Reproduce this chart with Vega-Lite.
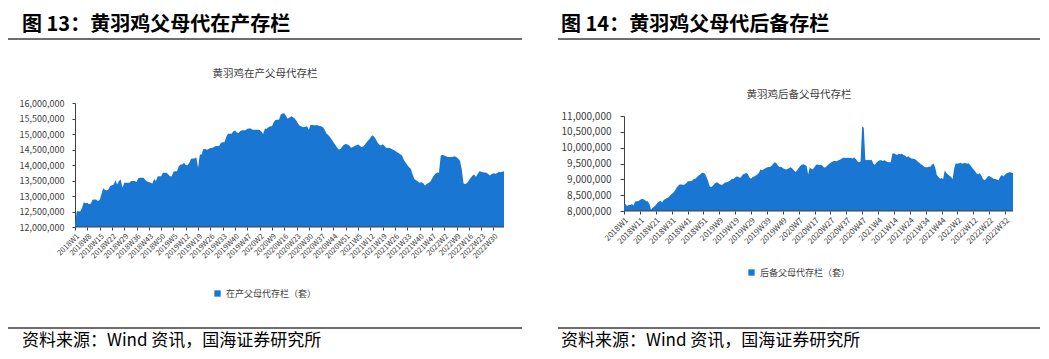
{
"$schema": "https://vega.github.io/schema/vega-lite/v6.json",
"background": "white",
"padding": {"left": 8, "top": 15, "right": 0, "bottom": 0},
"spacing": 36,
"resolve": {"scale": {"color": "independent"}, "legend": {"color": "independent"}},
"config": {
  "view": {"stroke": null},
  "font": "Noto Sans CJK SC",
  "axis": {"grid": false, "domainColor": "#404040", "tickColor": "#404040", "labelColor": "#404040", "labelFont": "Noto Sans CJK SC", "title": null, "labelOverlap": false},
  "legend": {"layout": {"bottom": {"anchor": "middle"}}}
},
"datasets": {"d": [
{"w":"2018W1","a":12050000,"b":8190000},{"w":"2018W2","a":12510000,"b":8220000},{"w":"2018W3","a":12510000,"b":8150000},{"w":"2018W4","a":12500000,"b":8200000},{"w":"2018W5","a":12620000,"b":8190000},{"w":"2018W6","a":12800000,"b":8220000},{"w":"2018W7","a":12770000,"b":8170000},{"w":"2018W8","a":12780000,"b":8300000},{"w":"2018W9","a":12730000,"b":8310000},{"w":"2018W10","a":12760000,"b":8310000},
{"w":"2018W11","a":12880000,"b":8350000},{"w":"2018W12","a":12890000,"b":8380000},{"w":"2018W13","a":12890000,"b":8380000},{"w":"2018W14","a":12840000,"b":8350000},{"w":"2018W15","a":12870000,"b":8310000},{"w":"2018W16","a":13050000,"b":8310000},{"w":"2018W17","a":13250000,"b":8220000},{"w":"2018W18","a":13200000,"b":8040000},{"w":"2018W19","a":13180000,"b":8100000},{"w":"2018W20","a":13210000,"b":8140000},
{"w":"2018W21","a":13320000,"b":8190000},{"w":"2018W22","a":13350000,"b":8250000},{"w":"2018W23","a":13370000,"b":8300000},{"w":"2018W24","a":13510000,"b":8320000},{"w":"2018W25","a":13370000,"b":8270000},{"w":"2018W26","a":13480000,"b":8350000},{"w":"2018W27","a":13530000,"b":8380000},{"w":"2018W28","a":13270000,"b":8410000},{"w":"2018W29","a":13430000,"b":8430000},{"w":"2018W30","a":13430000,"b":8490000},
{"w":"2018W31","a":13430000,"b":8540000},{"w":"2018W32","a":13430000,"b":8580000},{"w":"2018W33","a":13480000,"b":8640000},{"w":"2018W34","a":13480000,"b":8730000},{"w":"2018W35","a":13480000,"b":8790000},{"w":"2018W36","a":13450000,"b":8840000},{"w":"2018W37","a":13570000,"b":8840000},{"w":"2018W38","a":13590000,"b":8830000},{"w":"2018W39","a":13590000,"b":8830000},{"w":"2018W40","a":13590000,"b":8870000},
{"w":"2018W41","a":13520000,"b":8920000},{"w":"2018W42","a":13470000,"b":8950000},{"w":"2018W43","a":13450000,"b":8940000},{"w":"2018W44","a":13430000,"b":8960000},{"w":"2018W45","a":13400000,"b":9010000},{"w":"2018W46","a":13550000,"b":9020000},{"w":"2018W47","a":13480000,"b":9070000},{"w":"2018W48","a":13630000,"b":9120000},{"w":"2018W49","a":13640000,"b":9150000},{"w":"2018W50","a":13640000,"b":9210000},
{"w":"2018W51","a":13750000,"b":9200000},{"w":"2018W52","a":13750000,"b":9180000},
{"w":"2019W1","a":13750000,"b":9070000},{"w":"2019W2","a":13700000,"b":8940000},{"w":"2019W3","a":13640000,"b":8770000},{"w":"2019W4","a":13640000,"b":8760000},{"w":"2019W5","a":13780000,"b":8800000},{"w":"2019W6","a":13800000,"b":8860000},{"w":"2019W7","a":13800000,"b":8900000},{"w":"2019W8","a":13950000,"b":8900000},{"w":"2019W9","a":14020000,"b":8850000},{"w":"2019W10","a":14020000,"b":8830000},
{"w":"2019W11","a":14070000,"b":8830000},{"w":"2019W12","a":14000000,"b":8880000},{"w":"2019W13","a":13990000,"b":8910000},{"w":"2019W14","a":14070000,"b":8910000},{"w":"2019W15","a":14200000,"b":8940000},{"w":"2019W16","a":14210000,"b":8960000},{"w":"2019W17","a":14210000,"b":9020000},{"w":"2019W18","a":14250000,"b":9010000},{"w":"2019W19","a":13910000,"b":9060000},{"w":"2019W20","a":14340000,"b":9090000},
{"w":"2019W21","a":14340000,"b":9080000},{"w":"2019W22","a":14520000,"b":9040000},{"w":"2019W23","a":14520000,"b":9090000},{"w":"2019W24","a":14490000,"b":9160000},{"w":"2019W25","a":14520000,"b":9180000},{"w":"2019W26","a":14550000,"b":9200000},{"w":"2019W27","a":14550000,"b":9170000},{"w":"2019W28","a":14580000,"b":9060000},{"w":"2019W29","a":14610000,"b":9020000},{"w":"2019W30","a":14610000,"b":9070000},
{"w":"2019W31","a":14610000,"b":9090000},{"w":"2019W32","a":14720000,"b":9120000},{"w":"2019W33","a":14730000,"b":9150000},{"w":"2019W34","a":14730000,"b":9210000},{"w":"2019W35","a":14900000,"b":9320000},{"w":"2019W36","a":15010000,"b":9290000},{"w":"2019W37","a":15010000,"b":9320000},{"w":"2019W38","a":15010000,"b":9350000},{"w":"2019W39","a":15080000,"b":9370000},{"w":"2019W40","a":15110000,"b":9390000},
{"w":"2019W41","a":15050000,"b":9390000},{"w":"2019W42","a":15030000,"b":9430000},{"w":"2019W43","a":15100000,"b":9490000},{"w":"2019W44","a":15120000,"b":9540000},{"w":"2019W45","a":15120000,"b":9510000},{"w":"2019W46","a":15120000,"b":9430000},{"w":"2019W47","a":15170000,"b":9390000},{"w":"2019W48","a":15180000,"b":9400000},{"w":"2019W49","a":15180000,"b":9360000},{"w":"2019W50","a":15140000,"b":9330000},
{"w":"2019W51","a":15140000,"b":9310000},{"w":"2019W52","a":15140000,"b":9330000},
{"w":"2020W1","a":15140000,"b":9360000},{"w":"2020W2","a":15130000,"b":9380000},{"w":"2020W3","a":15080000,"b":9340000},{"w":"2020W4","a":15000000,"b":9290000},{"w":"2020W5","a":15170000,"b":9230000},{"w":"2020W6","a":15170000,"b":9290000},{"w":"2020W7","a":15220000,"b":9360000},{"w":"2020W8","a":15250000,"b":9420000},{"w":"2020W9","a":15250000,"b":9460000},{"w":"2020W10","a":15380000,"b":9480000},
{"w":"2020W11","a":15450000,"b":9450000},{"w":"2020W12","a":15460000,"b":9420000},{"w":"2020W13","a":15460000,"b":9150000},{"w":"2020W14","a":15620000,"b":9380000},{"w":"2020W15","a":15660000,"b":9330000},{"w":"2020W16","a":15670000,"b":9320000},{"w":"2020W17","a":15580000,"b":9390000},{"w":"2020W18","a":15490000,"b":9460000},{"w":"2020W19","a":15530000,"b":9470000},{"w":"2020W20","a":15570000,"b":9450000},
{"w":"2020W21","a":15540000,"b":9460000},{"w":"2020W22","a":15500000,"b":9430000},{"w":"2020W23","a":15420000,"b":9370000},{"w":"2020W24","a":15320000,"b":9380000},{"w":"2020W25","a":15260000,"b":9440000},{"w":"2020W26","a":15240000,"b":9480000},{"w":"2020W27","a":15220000,"b":9520000},{"w":"2020W28","a":15230000,"b":9550000},{"w":"2020W29","a":15250000,"b":9580000},{"w":"2020W30","a":15140000,"b":9580000},
{"w":"2020W31","a":15300000,"b":9570000},{"w":"2020W32","a":15290000,"b":9600000},{"w":"2020W33","a":15280000,"b":9620000},{"w":"2020W34","a":15280000,"b":9650000},{"w":"2020W35","a":15280000,"b":9680000},{"w":"2020W36","a":15260000,"b":9680000},{"w":"2020W37","a":15250000,"b":9670000},{"w":"2020W38","a":15220000,"b":9680000},{"w":"2020W39","a":15140000,"b":9670000},{"w":"2020W40","a":15020000,"b":9680000},
{"w":"2020W41","a":14970000,"b":9660000},{"w":"2020W42","a":14900000,"b":9690000},{"w":"2020W43","a":14820000,"b":9640000},{"w":"2020W44","a":14730000,"b":9570000},{"w":"2020W45","a":14650000,"b":9540000},{"w":"2020W46","a":14570000,"b":9560000},{"w":"2020W47","a":14500000,"b":10670000},{"w":"2020W48","a":14520000,"b":10630000},{"w":"2020W49","a":14600000,"b":9620000},{"w":"2020W50","a":14650000,"b":9600000},
{"w":"2020W51","a":14680000,"b":9620000},{"w":"2020W52","a":14660000,"b":9600000},{"w":"2020W53","a":14630000,"b":9620000},
{"w":"2021W1","a":14560000,"b":9490000},{"w":"2021W2","a":14580000,"b":9460000},{"w":"2021W3","a":14610000,"b":9530000},{"w":"2021W4","a":14640000,"b":9570000},{"w":"2021W5","a":14660000,"b":9600000},{"w":"2021W6","a":14620000,"b":9600000},{"w":"2021W7","a":14570000,"b":9580000},{"w":"2021W8","a":14600000,"b":9600000},{"w":"2021W9","a":14670000,"b":9580000},{"w":"2021W10","a":14740000,"b":9550000},
{"w":"2021W11","a":14810000,"b":9540000},{"w":"2021W12","a":14880000,"b":9540000},{"w":"2021W13","a":14960000,"b":9810000},{"w":"2021W14","a":14920000,"b":9820000},{"w":"2021W15","a":14840000,"b":9790000},{"w":"2021W16","a":14730000,"b":9770000},{"w":"2021W17","a":14660000,"b":9810000},{"w":"2021W18","a":14630000,"b":9790000},{"w":"2021W19","a":14670000,"b":9810000},{"w":"2021W20","a":14620000,"b":9770000},
{"w":"2021W21","a":14550000,"b":9750000},{"w":"2021W22","a":14550000,"b":9700000},{"w":"2021W23","a":14550000,"b":9730000},{"w":"2021W24","a":14520000,"b":9690000},{"w":"2021W25","a":14490000,"b":9660000},{"w":"2021W26","a":14460000,"b":9650000},{"w":"2021W27","a":14420000,"b":9640000},{"w":"2021W28","a":14390000,"b":9610000},{"w":"2021W29","a":14350000,"b":9560000},{"w":"2021W30","a":14310000,"b":9520000},
{"w":"2021W31","a":14170000,"b":9480000},{"w":"2021W32","a":14080000,"b":9450000},{"w":"2021W33","a":14000000,"b":9400000},{"w":"2021W34","a":13930000,"b":9380000},{"w":"2021W35","a":13880000,"b":9380000},{"w":"2021W36","a":13700000,"b":9400000},{"w":"2021W37","a":13550000,"b":9400000},{"w":"2021W38","a":13510000,"b":9470000},{"w":"2021W39","a":13470000,"b":9490000},{"w":"2021W40","a":13430000,"b":9370000},
{"w":"2021W41","a":13440000,"b":9140000},{"w":"2021W42","a":13420000,"b":9080000},{"w":"2021W43","a":13340000,"b":9020000},{"w":"2021W44","a":13390000,"b":9040000},{"w":"2021W45","a":13420000,"b":9010000},{"w":"2021W46","a":13460000,"b":9280000},{"w":"2021W47","a":13550000,"b":9210000},{"w":"2021W48","a":13650000,"b":9150000},{"w":"2021W49","a":13720000,"b":9110000},{"w":"2021W50","a":13760000,"b":9070000},
{"w":"2021W51","a":13750000,"b":9010000},{"w":"2021W52","a":14300000,"b":9360000},
{"w":"2022W1","a":14330000,"b":9510000},{"w":"2022W2","a":14310000,"b":9490000},{"w":"2022W3","a":14280000,"b":9510000},{"w":"2022W4","a":14260000,"b":9520000},{"w":"2022W5","a":14260000,"b":9490000},{"w":"2022W6","a":14260000,"b":9510000},{"w":"2022W7","a":14270000,"b":9520000},{"w":"2022W8","a":14280000,"b":9490000},{"w":"2022W9","a":14250000,"b":9510000},{"w":"2022W10","a":14200000,"b":9450000},
{"w":"2022W11","a":14130000,"b":9390000},{"w":"2022W12","a":13850000,"b":9320000},{"w":"2022W13","a":13400000,"b":9260000},{"w":"2022W14","a":13390000,"b":9190000},{"w":"2022W15","a":13420000,"b":9160000},{"w":"2022W16","a":13500000,"b":9190000},{"w":"2022W17","a":13580000,"b":9130000},{"w":"2022W18","a":13650000,"b":9020000},{"w":"2022W19","a":13690000,"b":8970000},{"w":"2022W20","a":13620000,"b":9010000},
{"w":"2022W21","a":13710000,"b":9080000},{"w":"2022W22","a":13800000,"b":9110000},{"w":"2022W23","a":13780000,"b":9070000},{"w":"2022W24","a":13770000,"b":9050000},{"w":"2022W25","a":13760000,"b":9010000},{"w":"2022W26","a":13750000,"b":9010000},{"w":"2022W27","a":13710000,"b":8990000},{"w":"2022W28","a":13660000,"b":8980000},{"w":"2022W29","a":13710000,"b":9090000},{"w":"2022W30","a":13730000,"b":9140000},
{"w":"2022W31","a":13720000,"b":9090000},{"w":"2022W32","a":13730000,"b":9150000},{"w":"2022W33","a":13780000,"b":9190000},{"w":"2022W34","a":13770000,"b":9210000},{"w":"2022W35","a":13780000,"b":9230000},{"w":"2022W36","a":13800000,"b":9210000},{"w":"2022W37","b":9200000}
]},
"hconcat": [
 {
  "title": {"text": "图 13：黄羽鸡父母代在产存栏", "anchor": "start", "fontSize": 20, "fontWeight": "bold", "color": "#000000", "dx": 14, "offset": 3},
  "spacing": 28,
  "resolve": {"scale": {"color": "independent"}, "legend": {"color": "independent"}},
  "vconcat": [
   {"width": 514, "height": 2, "data": {"values": []}, "mark": "rule", "encoding": {}, "view": {"fill": "#6e6e6e", "stroke": null}},
   {
    "width": 514, "height": 124,
    "title": {"text": "黄羽鸡在产父母代存栏", "fontSize": 10.5, "fontWeight": "normal", "color": "#404040", "offset": 20},
    "data": {"name": "d"},
    "transform": [{"filter": "isValid(datum.a)"}],
    "encoding": {
      "x": {"field": "w", "type": "ordinal", "sort": null, "scale": {"type": "point", "padding": 0, "range": [67, 496]},
            "axis": {"values": ["2018W1","2018W8","2018W15","2018W22","2018W29","2018W36","2018W43","2018W50","2019W5","2019W12","2019W19","2019W26","2019W33","2019W40","2019W47","2020W2","2020W9","2020W16","2020W23","2020W30","2020W37","2020W44","2020W51","2021W5","2021W12","2021W19","2021W26","2021W33","2021W40","2021W47","2022W2","2022W9","2022W16","2022W23","2022W30"],
                     "domain": false, "labelAngle": -45, "labelFontSize": 7.5, "tickSize": 3, "labelPadding": 2, "labelOverlap": false}}
    },
    "layer": [
     {"mark": {"type": "area", "clip": true},
      "encoding": {
      "y": {"field": "a", "type": "quantitative", "scale": {"domain": [12000000, 16000000], "zero": false, "nice": false, "clamp": true},
            "axis": {"values": [12000000,12500000,13000000,13500000,14000000,14500000,15000000,15500000,16000000], "format": ",.0f", "labelFontSize": 9, "tickSize": 3, "labelPadding": 8, "offset": -67, "labelOverlap": false}},
      "y2": {"datum": 12000000},
      "color": {"datum": "在产父母代存栏（套）", "scale": {"range": ["#1976d2"]},
                "legend": {"orient": "bottom", "title": null, "symbolType": "square", "symbolSize": 40, "labelFontSize": 9, "labelColor": "#404040", "offset": 29}}
      }},
     {"transform": [{"filter": "datum.w == '2018W1'"}],
      "mark": {"type": "rule", "color": "#404040", "strokeWidth": 1},
      "encoding": {"x": {"datum": "2018W1", "type": "ordinal"}, "x2": {"datum": "2022W36"},
        "y": {"datum": 12000000, "type": "quantitative",
              "axis": {"values": [12000000,12500000,13000000,13500000,14000000,14500000,15000000,15500000,16000000], "format": ",.0f", "labelFontSize": 9, "tickSize": 3, "labelPadding": 8, "offset": -67, "labelOverlap": false}}}}
    ]
   },
   {"width": 514, "height": 2, "data": {"values": []}, "mark": "rule", "encoding": {}, "view": {"fill": "#6e6e6e", "stroke": null},
    "title": {"text": "资料来源：Wind 资讯，国海证券研究所", "orient": "bottom", "anchor": "start", "fontSize": 17, "fontWeight": "normal", "color": "#000000", "dx": 14, "offset": 4}}
  ]
 },
 {
  "title": {"text": "图 14：黄羽鸡父母代后备存栏", "anchor": "start", "fontSize": 20, "fontWeight": "bold", "color": "#000000", "dx": 3, "offset": 3},
  "spacing": 49,
  "resolve": {"scale": {"color": "independent"}, "legend": {"color": "independent"}},
  "vconcat": [
   {"width": 482, "height": 2, "data": {"values": []}, "mark": "rule", "encoding": {}, "view": {"fill": "#6e6e6e", "stroke": null}},
   {
    "width": 482, "height": 95,
    "title": {"text": "黄羽鸡后备父母代存栏", "fontSize": 10.5, "fontWeight": "normal", "color": "#404040", "offset": 11},
    "data": {"name": "d"},
    "encoding": {
      "x": {"field": "w", "type": "ordinal", "sort": null, "scale": {"type": "point", "padding": 0, "range": [66, 455]},
            "axis": {"values": ["2018W1","2018W11","2018W21","2018W31","2018W41","2018W51","2019W9","2019W19","2019W29","2019W39","2019W49","2020W7","2020W17","2020W27","2020W37","2020W47","2021W4","2021W14","2021W24","2021W34","2021W44","2022W2","2022W12","2022W22","2022W32"],
                     "domain": false, "labelAngle": -45, "labelFontSize": 8, "tickSize": 3, "labelPadding": 2, "labelOverlap": false}}
    },
    "layer": [
     {"mark": {"type": "area", "clip": true},
      "encoding": {
      "y": {"field": "b", "type": "quantitative", "scale": {"domain": [8000000, 11000000], "zero": false, "nice": false, "clamp": true},
            "axis": {"values": [8000000,8500000,9000000,9500000,10000000,10500000,11000000], "format": ",.0f", "labelFontSize": 10, "tickSize": 4, "labelPadding": 9, "offset": -66, "labelOverlap": false}},
      "y2": {"datum": 8000000},
      "color": {"datum": "后备父母代存栏（套）", "scale": {"range": ["#1976d2"]},
                "legend": {"orient": "bottom", "title": null, "symbolType": "square", "symbolSize": 40, "labelFontSize": 9, "labelColor": "#404040", "offset": 22}}
      }},
     {"transform": [{"filter": "datum.w == '2018W1'"}],
      "mark": {"type": "rule", "color": "#404040", "strokeWidth": 1},
      "encoding": {"x": {"datum": "2018W1", "type": "ordinal"}, "x2": {"datum": "2022W37"},
        "y": {"datum": 8000000, "type": "quantitative",
              "axis": {"values": [8000000,8500000,9000000,9500000,10000000,10500000,11000000], "format": ",.0f", "labelFontSize": 10, "tickSize": 4, "labelPadding": 9, "offset": -66, "labelOverlap": false}}}}
    ]
   },
   {"width": 482, "height": 2, "data": {"values": []}, "mark": "rule", "encoding": {}, "view": {"fill": "#6e6e6e", "stroke": null},
    "title": {"text": "资料来源：Wind 资讯，国海证券研究所", "orient": "bottom", "anchor": "start", "fontSize": 17, "fontWeight": "normal", "color": "#000000", "dx": 3, "offset": 4}}
  ]
 }
]
}
